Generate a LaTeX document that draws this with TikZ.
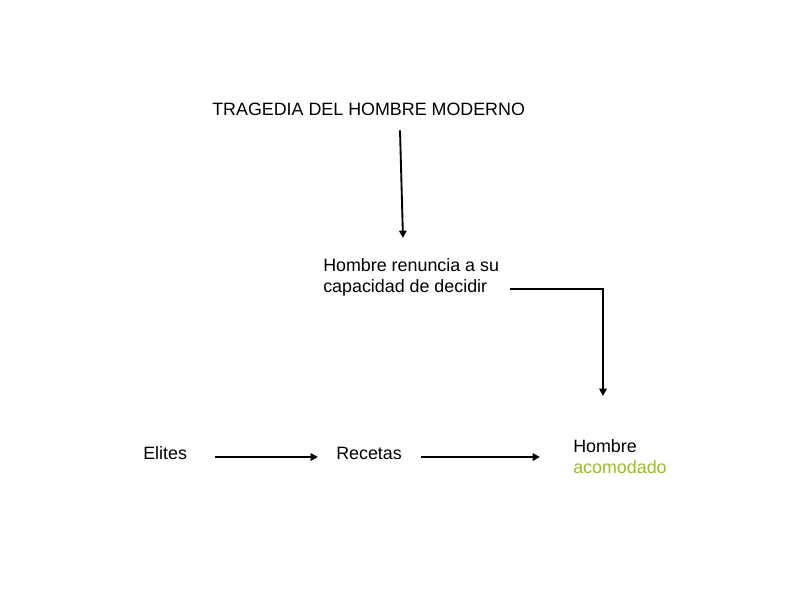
\documentclass[tikz,border=0pt]{standalone}
\usepackage{fontspec}
\setmainfont{Liberation Sans}
\usetikzlibrary{arrows.meta}
\usepackage{xcolor}
\definecolor{verdeoliva}{RGB}{154,190,30}

\begin{document}
\begin{tikzpicture}[x=0.75pt,y=-0.75pt,
    lbl/.style={inner sep=0pt,font=\fontsize{13.4}{16}\selectfont},
    arr/.style={line width=1.4pt,-{Triangle[length=5.5pt,width=5.5pt]}}]
  \useasboundingbox (0,0) rectangle (794,596);
  % textos
  \node[lbl,anchor=base west] (tragedia) at (212,115) {TRAGEDIA DEL HOMBRE MODERNO};
  \node[lbl,anchor=north west,align=left] (renuncia) at (323,258)
    {Hombre renuncia a su\\capacidad de decidir};
  \node[lbl,anchor=base west] (elites) at (143,459) {Elites};
  \node[lbl,anchor=base west] (recetas) at (336,459) {Recetas};
  \node[lbl,anchor=north west,align=left] (acomodado) at (573,439)
    {Hombre\\\textcolor{verdeoliva}{acomodado}};
  % flechas
  \draw[arr] ([shift={(141pt,-11.25pt)}]tragedia.south west) -- ([shift={(60pt,15pt)}]renuncia.north west);
  \draw[arr] ([shift={(140.25pt,-23pt)}]renuncia.north west) -| ([shift={(22.5pt,32.25pt)}]acomodado.north west);
  \draw[arr] ([shift={(54pt,1.5pt)}]elites.base west) -- ([shift={(-13.5pt,1.5pt)}]recetas.base west);
  \draw[arr] ([shift={(63.75pt,1.5pt)}]recetas.base west) -- ([shift={(-24.75pt,-13.5pt)}]acomodado.north west);
\end{tikzpicture}
\end{document}
